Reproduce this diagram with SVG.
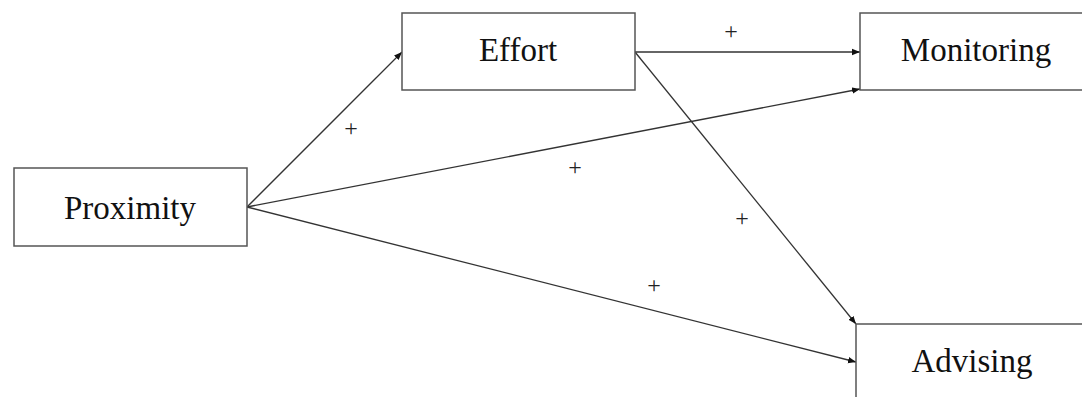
<svg xmlns="http://www.w3.org/2000/svg" width="1082" height="397" viewBox="0 0 1082 397">
<style>
.box{fill:#fff;stroke:#555;stroke-width:1.5}
.lbl{font-family:"Liberation Serif","Times New Roman",serif;font-size:33px;fill:#111;text-anchor:middle}
.sign{font-family:"Liberation Serif","Times New Roman",serif;font-size:24px;fill:#222;text-anchor:middle}
.edge{stroke:#333;stroke-width:1.3;fill:none;marker-end:url(#ah)}
</style>
<defs>
<marker id="ah" viewBox="0 0 10 10" refX="10" refY="5" markerWidth="8" markerHeight="8" markerUnits="userSpaceOnUse" orient="auto">
<path d="M0,1 L10,5 L0,9 z" fill="#111"/>
</marker>
</defs>
<rect width="1082" height="397" fill="#fff"/>
<g id="connectors">
<line class="edge" x1="247" y1="207" x2="402" y2="52"/>
<line class="edge" x1="247" y1="207" x2="860" y2="89"/>
<line class="edge" x1="247" y1="207" x2="856" y2="362"/>
<line class="edge" x1="635" y1="52" x2="860" y2="52"/>
<line class="edge" x1="635" y1="52" x2="856" y2="324"/>
<text class="sign" x="351" y="136">+</text>
<text class="sign" x="575" y="175">+</text>
<text class="sign" x="731" y="39">+</text>
<text class="sign" x="742" y="226">+</text>
<text class="sign" x="654" y="293">+</text>
</g>
<g id="proximity">
<rect class="box" x="14" y="168" width="233" height="78"/>
<text class="lbl" x="130" y="219">Proximity</text>
</g>
<g id="effort">
<rect class="box" x="402" y="13" width="233" height="77"/>
<text class="lbl" x="518" y="61">Effort</text>
</g>
<g id="monitoring">
<rect class="box" x="860" y="13" width="240" height="77"/>
<text class="lbl" x="976" y="61">Monitoring</text>
</g>
<g id="advising">
<rect class="box" x="856" y="324" width="240" height="90"/>
<text class="lbl" x="972" y="372">Advising</text>
</g>
</svg>
